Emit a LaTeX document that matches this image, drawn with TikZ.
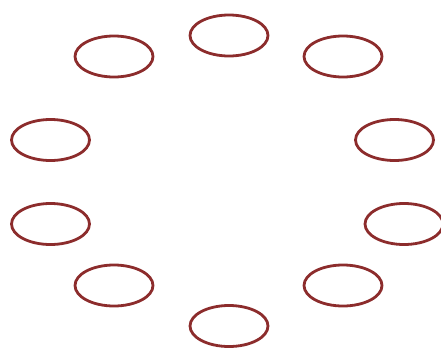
\documentclass[tikz,border=0pt]{standalone}
\usetikzlibrary{shapes.geometric}
\definecolor{ringred}{RGB}{140,44,44}
\tikzset{ring/.style={draw=ringred, ellipse, line width=2.8pt, minimum width=78pt, minimum height=41pt, inner sep=0pt}}
\begin{document}
\begin{tikzpicture}[x=1pt,y=-1pt]
\useasboundingbox (0,0) rectangle (441,348);
\node[ring] (n1) at (229,35.5) {};
\node[ring] (n2) at (114,56.5) {};
\node[ring] (n3) at (343,56.5) {};
\node[ring] (n4) at (50.5,140) {};
\node[ring] (n5) at (394.5,140) {};
\node[ring] (n6) at (50.5,224) {};
\node[ring] (n7) at (404,224) {};
\node[ring] (n8) at (114,285.5) {};
\node[ring] (n9) at (343,285.5) {};
\node[ring] (n10) at (229,326) {};
\end{tikzpicture}
\end{document}
